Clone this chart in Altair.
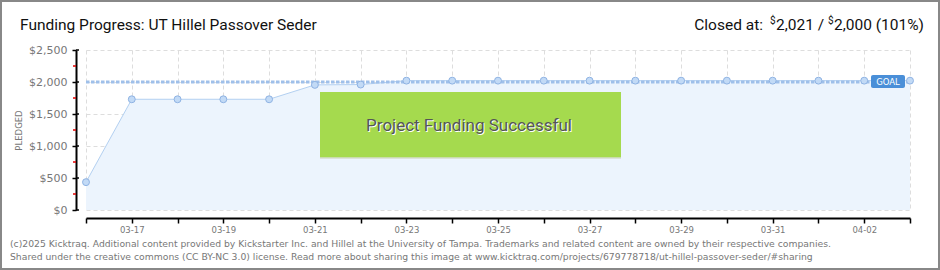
import altair as alt
import pandas as pd

# ---- data ----
dates = ["2025-03-16", "2025-03-17", "2025-03-18", "2025-03-19", "2025-03-20",
         "2025-03-21", "2025-03-22", "2025-03-23", "2025-03-24", "2025-03-25",
         "2025-03-26", "2025-03-27", "2025-03-28", "2025-03-29", "2025-03-30",
         "2025-03-31", "2025-04-01", "2025-04-02", "2025-04-03"]
pledged = [435, 1730, 1730, 1730, 1730, 1955, 1960, 2021, 2021, 2021,
           2021, 2021, 2021, 2021, 2021, 2021, 2021, 2021, 2021]
goal_value = 2000
y_ticks = [0, 500, 1000, 1500, 2000, 2500]
y_minor = [250, 750, 1250, 1750, 2250]

title_text = "Funding Progress: UT Hillel Passover Seder"
closed_label = "Closed at:"
closed_amount = "2,021 /"
goal_amount = "2,000 (101%)"
banner_text = "Project Funding Successful"
footer1 = ("(c)2025 Kicktraq. Additional content provided by Kickstarter Inc. and Hillel at the "
           "University of Tampa. Trademarks and related content are owned by their respective companies.")
footer2 = ("Shared under the creative commons (CC BY-NC 3.0) license. Read more about sharing this image at "
           "www.kicktraq.com/projects/679778718/ut-hillel-passover-seder/#sharing")

df = pd.DataFrame({"date": dates, "pledged": pledged})
one = pd.DataFrame({"k": [0]})

W, H = 824, 160
T0 = 1742083200000  # 2025-03-16 UTC in ms

NARROW = "Roboto"
SMALL = "DejaVu Sans"


def dt(s):
    y, m, d = map(int, s.split("-"))
    return alt.DateTime(year=y, month=m, date=d, utc=True)


x_scale = alt.Scale(type="utc", domain=[dt(dates[0]), dt(dates[-1])])
y_scale = alt.Scale(domain=[0, 2500])

x_axis = alt.Axis(
    values=[dt(d) for d in dates],
    labelExpr=f"round((datum.value - {T0})/86400000) % 2 == 1 ? utcFormat(datum.value, '%m-%d') : ''",
    title=None, offset=8, domainColor="#000", domainWidth=2,
    tickColor="#000", tickSize=5, tickWidth=1.5,
    labelColor="#777", labelFont=SMALL, labelFontSize=8.5, labelPadding=2,
    grid=True, gridColor="#dddddd", gridDash=[4, 3], labelFlush=False,
)
y_axis = alt.Axis(
    values=y_ticks, format="$,.0f", title="PLEDGED", titleFont=SMALL,
    titleFontSize=8.5, titleFontWeight="normal", titleColor="#777", titlePadding=5,
    offset=10, domainColor="#000", domainWidth=2, tickColor="#000", tickSize=4,
    tickWidth=1.5, labelColor="#777", labelFont=SMALL, labelFontSize=11,
    labelPadding=5, grid=True, gridColor="#dddddd", gridDash=[4, 3],
)

X = alt.X("date:T", scale=x_scale, axis=x_axis)
Y = alt.Y("pledged:Q", scale=y_scale, axis=y_axis)

base = alt.Chart(df)

area = base.mark_area(color="#ecf4fd", opacity=1).encode(x=X, y=Y)
line = base.mark_line(color="#b3d0f1", strokeWidth=1).encode(x=X, y=Y)

minor_ticks = alt.Chart(pd.DataFrame({"pledged": y_minor})).mark_rule(
    color="#e00000", strokeWidth=1.5).encode(
    y=Y, x=alt.value(-13), x2=alt.value(-10))
major_right = alt.Chart(pd.DataFrame({"pledged": y_ticks})).mark_rule(
    color="#000000", strokeWidth=1.5).encode(
    y=Y, x=alt.value(-10), x2=alt.value(-7))

goal_rule = alt.Chart(pd.DataFrame({"pledged": [goal_value]})).mark_rule(
    color="#9fc0ea", strokeWidth=3, strokeDash=[3.5, 1.5]).encode(
    y=Y, x=alt.value(0), x2=alt.value(W))
points = base.mark_circle(size=48, color="#c2daf6", opacity=1, stroke="#8fb3e3", strokeWidth=1).encode(
    x=X, y=Y)

banner = alt.Chart(one).mark_rect(color="#a5da4e").encode(
    x=alt.value(234), x2=alt.value(535), y=alt.value(42), y2=alt.value(108))
banner_edge = alt.Chart(one).mark_rule(color="#d6dccd", strokeWidth=1.5).encode(
    x=alt.value(234), x2=alt.value(535), y=alt.value(108))
banner_shadow = alt.Chart(one).mark_text(text=banner_text, font=NARROW, fontSize=17,
                                         color="#ffffff", align="center", baseline="middle").encode(
    x=alt.value(384), y=alt.value(77))
banner_txt = alt.Chart(one).mark_text(text=banner_text, font=NARROW, fontSize=17,
                                      color="#555555", align="center", baseline="middle").encode(
    x=alt.value(383), y=alt.value(76))

goal_box = alt.Chart(one).mark_rect(color="#4a8fd8", cornerRadius=2).encode(
    x=alt.value(785), x2=alt.value(819), y=alt.value(25), y2=alt.value(38))
goal_txt = alt.Chart(one).mark_text(text="GOAL", font=SMALL, fontSize=8.5, color="#ffffff",
                                    align="center", baseline="middle").encode(
    x=alt.value(802), y=alt.value(31.5))

HF = 15.5
title = alt.Chart(one).mark_text(text=title_text, font=NARROW, fontSize=HF, color="#111",
                                 align="left", baseline="alphabetic").encode(
    x=alt.value(-66), y=alt.value(-20))
closed1 = alt.Chart(one).mark_text(text=closed_label, font=NARROW, fontSize=HF, color="#111",
                                   align="right", baseline="alphabetic").encode(
    x=alt.value(677), y=alt.value(-20))
dollar1 = alt.Chart(one).mark_text(text="$", font=NARROW, fontSize=10, color="#111",
                                   align="left", baseline="alphabetic").encode(
    x=alt.value(684), y=alt.value(-26))
closed2 = alt.Chart(one).mark_text(text=closed_amount, font=NARROW, fontSize=HF, color="#111",
                                   align="left", baseline="alphabetic").encode(
    x=alt.value(690), y=alt.value(-20))
dollar2 = alt.Chart(one).mark_text(text="$", font=NARROW, fontSize=10, color="#111",
                                   align="left", baseline="alphabetic").encode(
    x=alt.value(742), y=alt.value(-26))
closed3 = alt.Chart(one).mark_text(text=goal_amount, font=NARROW, fontSize=HF, color="#111",
                                   align="left", baseline="alphabetic").encode(
    x=alt.value(748), y=alt.value(-20))

foot1 = alt.Chart(one).mark_text(text=footer1, font=SMALL, fontSize=9.25, color="#777",
                                 align="left", baseline="alphabetic").encode(
    x=alt.value(-76), y=alt.value(197))
foot2 = alt.Chart(one).mark_text(text=footer2, font=SMALL, fontSize=9.25, color="#777",
                                 align="left", baseline="alphabetic").encode(
    x=alt.value(-76), y=alt.value(210))

frame = alt.Chart(one).mark_rect(fill=None, stroke="#888888", strokeWidth=2).encode(
    x=alt.value(-85), x2=alt.value(853), y=alt.value(-49), y2=alt.value(219))

chart = alt.layer(
    area, line, minor_ticks, major_right, goal_rule, points, banner, banner_edge,
    banner_shadow, banner_txt, goal_box, goal_txt, title, closed1, dollar1, closed2,
    dollar2, closed3, foot1, foot2, frame,
).properties(
    width=W, height=H,
    padding={"left": 86, "top": 50, "right": 30, "bottom": 60},
    autosize=alt.AutoSizeParams(type="none"),
    background="#ffffff",
).configure_view(stroke=None)

chart.save("out.html", embed_options={"renderer": "svg", "actions": False})
